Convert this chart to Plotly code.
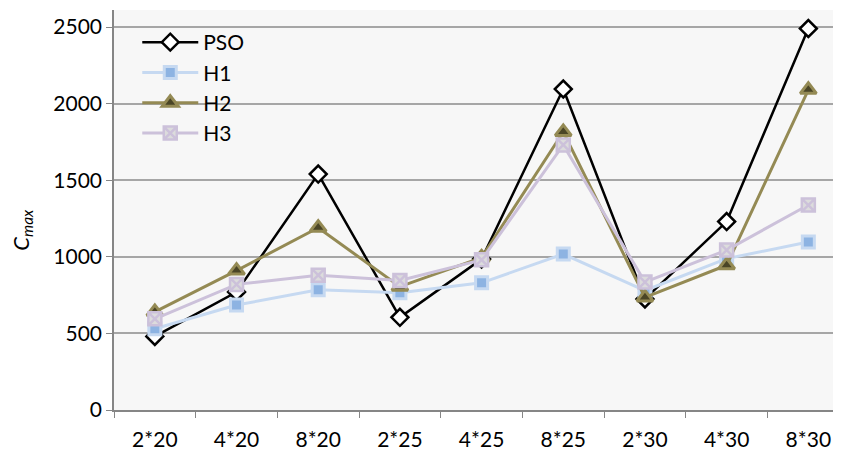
import plotly.graph_objects as go

categories = ["2*20", "4*20", "8*20", "2*25", "4*25", "8*25", "2*30", "4*30", "8*30"]
pso = [480, 770, 1540, 605, 985, 2095, 725, 1230, 2490]
h1 = [530, 685, 785, 765, 830, 1018, 780, 988, 1097]
h2 = [640, 910, 1190, 805, 995, 1815, 735, 945, 2090]
h3 = [595, 820, 880, 845, 980, 1730, 835, 1044, 1338]
y_ticks = [0, 500, 1000, 1500, 2000, 2500]

FONT = "Lato"

fig = go.Figure()
fig.add_trace(go.Scatter(
    x=categories, y=pso, name="PSO", mode="lines+markers",
    line=dict(color="#000000", width=2.5),
    marker=dict(symbol="diamond", size=13, color="#ffffff",
                line=dict(color="#000000", width=2.5)),
))
fig.add_trace(go.Scatter(
    x=categories, y=h1, name="H1", mode="lines+markers",
    line=dict(color="#c6d9f1", width=3),
    marker=dict(symbol="square", size=12, color="#8db3e2",
                line=dict(color="#c6d9f1", width=3)),
))
fig.add_trace(go.Scatter(
    x=categories, y=h2, name="H2", mode="lines+markers",
    line=dict(color="#948a54", width=3),
    marker=dict(symbol="triangle-up", size=14, color="#4a4526",
                line=dict(color="#948a54", width=3)),
))
fig.add_trace(go.Scatter(
    x=categories, y=h3, name="H3", mode="lines+markers",
    line=dict(color="#ccc1da", width=3),
    marker=dict(symbol="square-x", size=13, color="#dcdcdc",
                line=dict(color="#ccc1da", width=2.5)),
))

fig.update_layout(
    width=841, height=453,
    margin=dict(l=106, r=8, t=2, b=51),
    paper_bgcolor="#ffffff",
    plot_bgcolor="#f7f7f7",
    font=dict(family=FONT, size=21, color="#000000"),
    showlegend=True,
    legend=dict(x=0.032, y=0.97, xanchor="left", yanchor="top",
                bgcolor="rgba(0,0,0,0)", font=dict(size=21, family=FONT),
                tracegroupgap=0, itemwidth=56),
    xaxis=dict(
        type="category", range=[-0.5, 8.4], automargin=False,
        showgrid=False, showline=True, linecolor="#868686", linewidth=1.5,
        ticks="outside", tickson="boundaries", ticklen=6, tickcolor="#868686",
        tickfont=dict(size=21, family=FONT), ticklabelstandoff=10,
        zeroline=False,
    ),
    yaxis=dict(
        range=[0, 2611], tickvals=y_ticks, automargin=False,
        showgrid=True, gridcolor="#a6a6a6", gridwidth=1.5,
        showline=True, linecolor="#868686", linewidth=1.5,
        ticks="outside", ticklen=6, tickcolor="#868686",
        tickfont=dict(size=21, family=FONT),
        zeroline=False,
    ),
    annotations=[dict(
        text="<i>C<sub>max</sub></i>", xref="paper", yref="paper",
        x=-0.127, y=0.45, xanchor="center", yanchor="middle",
        textangle=-90, showarrow=False, font=dict(size=22, family=FONT),
    )],
)

fig.write_html("out.html")
